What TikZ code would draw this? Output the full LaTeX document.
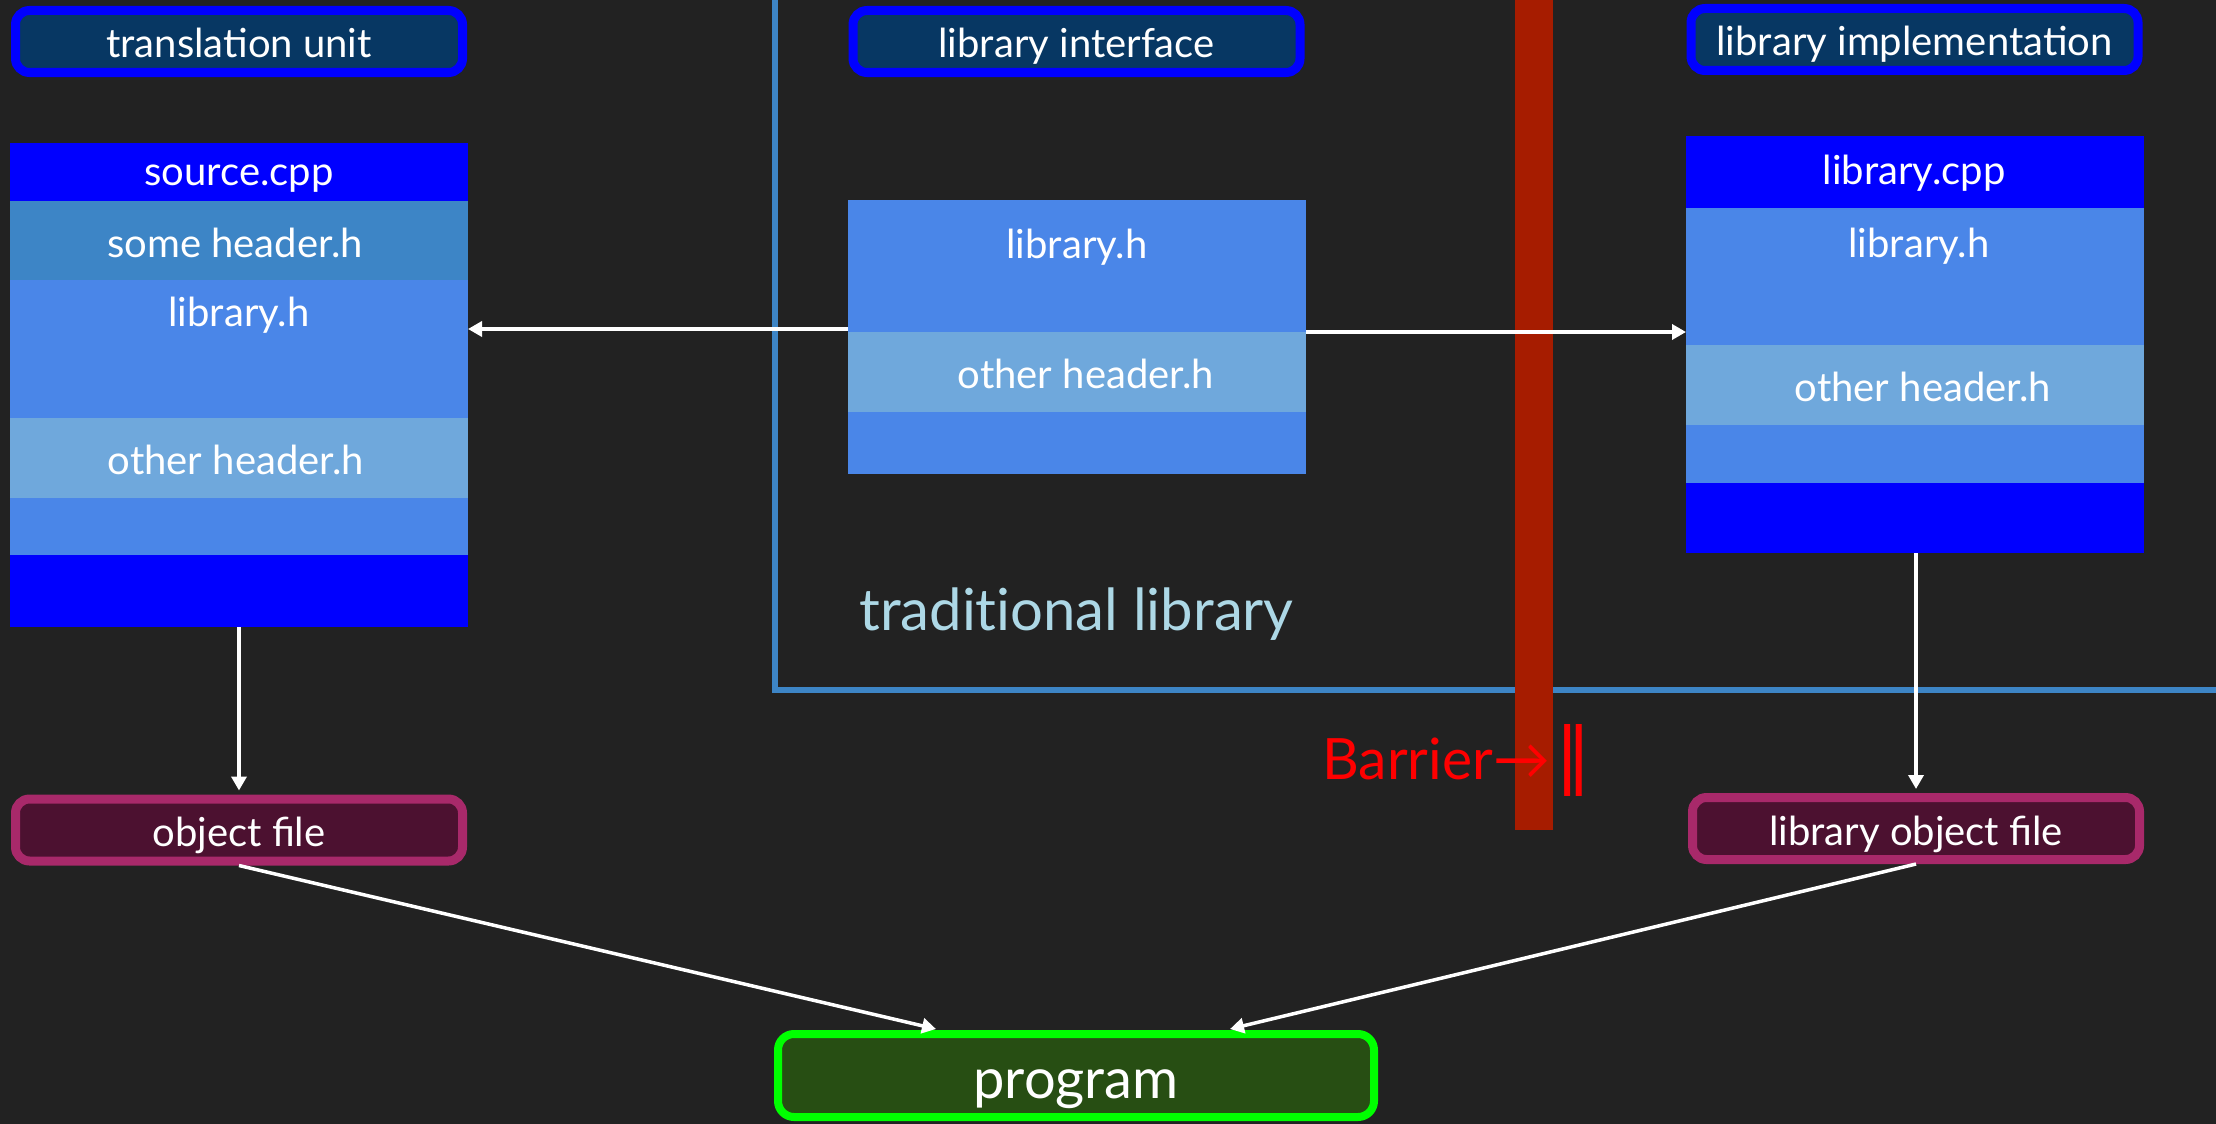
\documentclass[tikz,border=0pt]{standalone}
\usepackage{fontspec}
\setmainfont{Lato}
\newfontfamily\symfont{DejaVu Sans}
\usetikzlibrary{arrows.meta,calc}

\definecolor{bg}{HTML}{222222}
\definecolor{hdrfill}{HTML}{073763}
\definecolor{pureblue}{HTML}{0000FF}
\definecolor{midblue}{HTML}{3D85C6}
\definecolor{mainblue}{HTML}{4A86E8}
\definecolor{paleblue}{HTML}{6FA8DC}
\definecolor{objfill}{HTML}{4C1130}
\definecolor{objedge}{HTML}{A8296A}
\definecolor{progfill}{HTML}{274E13}
\definecolor{progedge}{HTML}{00FF00}
\definecolor{barrierbar}{HTML}{A61C00}
\definecolor{barriertext}{HTML}{FF0000}
\definecolor{tradtext}{HTML}{ADD8E6}

\tikzset{
  band/.style={fill=#1, draw=none, inner sep=0pt, outer sep=0pt, anchor=north west},
  colframe/.style={draw=none, inner sep=0pt, outer sep=0pt, anchor=north west},
  bandtext/.style={text=white, font=\fontsize{40}{48}\selectfont, anchor=base, inner sep=0pt},
  pill/.style={rounded corners=14pt, line width=9pt, inner sep=0pt,
    minimum width=447pt, minimum height=62pt, text=white,
    font=\fontsize{40}{48}\selectfont, text height=34pt, text depth=1pt},
  heading/.style={pill, draw=pureblue, fill=hdrfill},
  objpill/.style={pill, draw=objedge, fill=objfill},
  progpill/.style={rounded corners=16pt, line width=8pt, inner sep=0pt,
    draw=progedge, fill=progfill, minimum width=596pt, minimum height=83pt,
    text=white, font=\fontsize{56}{64}\selectfont, text height=47pt, text depth=2pt},
  link/.style={draw=white, line width=3.5pt, -{Triangle[length=14pt,width=15pt]}},
}

\begin{document}
\begin{tikzpicture}[x=1pt, y=-1pt]
  % canvas
  \fill[bg] (0,0) rectangle (2216,1124);
  \useasboundingbox (0,0) rectangle (2216,1124);

  % frame around the traditional library
  \draw[midblue, line width=6pt] (775,-5) -- (775,689.5) -- (2221,689.5);
  \node[text=tradtext, font=\fontsize{58}{66}\selectfont, anchor=base west, inner sep=0pt]
    (tradlabel) at (859,630) {tradit\kern0pt ional library};

  % headings
  \node[heading] (tu)   at (239,41.5)    {translation unit};
  \node[heading] (lif)  at (1076.5,41.5) {library interface};
  \node[heading] (limp) at (1914.5,39.5) {library implementation};

  % translation unit column
  \node[colframe, minimum width=458pt, minimum height=484pt] (srccol) at (10,143) {};
  \node[band=pureblue, minimum width=458pt, minimum height=58pt]  (s1) at (10,143) {};
  \node[band=midblue,  minimum width=458pt, minimum height=79pt]  (s2) at (10,201) {};
  \node[band=mainblue, minimum width=458pt, minimum height=138pt] (s3) at (10,280) {};
  \node[band=paleblue, minimum width=458pt, minimum height=80pt]  (s4) at (10,418) {};
  \node[band=mainblue, minimum width=458pt, minimum height=57pt]  (s5) at (10,498) {};
  \node[band=pureblue, minimum width=458pt, minimum height=72pt]  (s6) at (10,555) {};
  \node[bandtext] (s1t) at (239,185) {source.cpp};
  \node[bandtext] (s2t) at (235,257) {some header.h};
  \node[bandtext] (s3t) at (239,326) {library.h};
  \node[bandtext] (s4t) at (236,474) {other header.h};

  % library interface column
  \node[colframe, minimum width=458pt, minimum height=274pt] (midcol) at (848,200) {};
  \node[band=mainblue, minimum width=458pt, minimum height=132pt] (m1) at (848,200) {};
  \node[band=paleblue, minimum width=458pt, minimum height=80pt]  (m2) at (848,332) {};
  \node[band=mainblue, minimum width=458pt, minimum height=62pt]  (m3) at (848,412) {};
  \node[bandtext] (m1t) at (1077,258) {library.h};
  \node[bandtext] (m2t) at (1086,388) {other header.h};

  % library implementation column
  \node[colframe, minimum width=458pt, minimum height=417pt] (implcol) at (1686,136) {};
  \node[band=pureblue, minimum width=458pt, minimum height=72pt]  (r1) at (1686,136) {};
  \node[band=mainblue, minimum width=458pt, minimum height=137pt] (r2) at (1686,208) {};
  \node[band=paleblue, minimum width=458pt, minimum height=80pt]  (r3) at (1686,345) {};
  \node[band=mainblue, minimum width=458pt, minimum height=58pt]  (r4) at (1686,425) {};
  \node[band=pureblue, minimum width=458pt, minimum height=70pt]  (r5) at (1686,483) {};
  \node[bandtext] (r1t) at (1914,184) {library.cpp};
  \node[bandtext] (r2t) at (1919,257) {library.h};
  \node[bandtext] (r3t) at (1923,401) {other header.h};

  % barrier
  \fill[barrierbar] (1515,-5) rectangle (1553,830);
  \node[text=barriertext, font=\fontsize{57}{64}\selectfont, anchor=base west, inner sep=0pt]
    (barrier) at (1322,779) {Barrier→\kern6pt{\symfont\fontsize{72}{80}\selectfont ‖}};

  % object files and program
  \node[objpill] (obj)    at (239,830)    {object file};
  \node[objpill] (libobj) at (1916,828.5) {library object file};
  \node[progpill] (prog)  at (1076,1075.5) {program};

  % connector ends
  \coordinate (toSrc)  at (848,329);
  \coordinate (toImpl) at (1306,332);
  \coordinate (progL)  at (936,1029);
  \coordinate (progR)  at (1230,1029);

  % connectors
  \draw[link] (toSrc) -- (srccol.east |- toSrc);
  \draw[link] (toImpl) -- (implcol.west |- toImpl);
  \draw[link, shorten >=4pt] (srccol.south) -- (obj.north);
  \draw[link, shorten >=4pt] (implcol.south -| libobj.north) -- (libobj.north);
  \draw[link] (obj.south) -- (progL);
  \draw[link] (libobj.south) -- (progR);
\end{tikzpicture}
\end{document}
